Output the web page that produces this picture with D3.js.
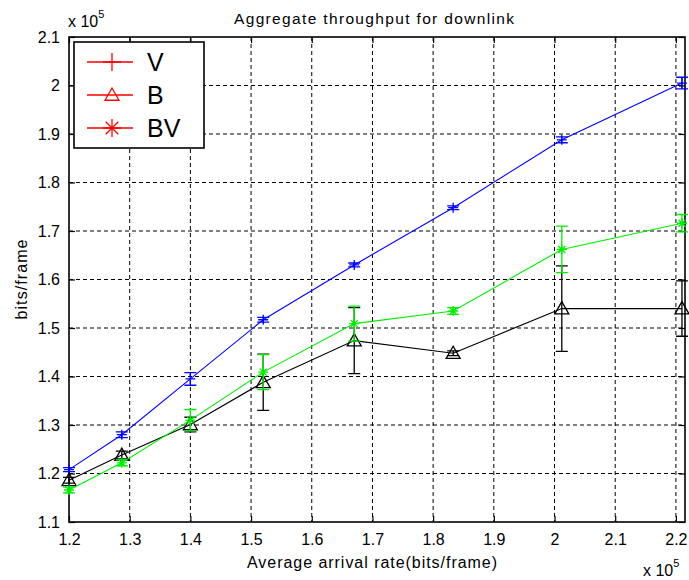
<!DOCTYPE html>
<html>
<head>
<meta charset="utf-8">
<script src="https://cdn.jsdelivr.net/npm/d3@7"></script>
<style>
  body { margin: 0; background: #fff; }
  svg text { font-family: "Liberation Sans", Arial, Helvetica, sans-serif; fill: #000; }
</style>
</head>
<body>
<div id="chart"></div>
<script>
// arrival rate, x 10^5 bits/frame
var arrivalRate = [1.2, 1.287, 1.4, 1.52, 1.67, 1.833, 2.012, 2.21];

// throughput, x 10^5 bits/frame, with errorbar half-lengths
var seriesV = [1.208, 1.280, 1.395, 1.517, 1.630, 1.748, 1.888, 2.005];
var errV = [0.004, 0.006, 0.013, 0.005, 0.004, 0.004, 0.006, 0.012];
var seriesB = [1.186, 1.238, 1.301, 1.388, 1.474, 1.448, 1.540, 1.540];
var errB = [0.006, 0.008, 0.015, 0.058, 0.068, 0.005, 0.088, 0.057];
var seriesBV = [1.166, 1.222, 1.310, 1.409, 1.509, 1.535, 1.662, 1.716];
var errBV = [0.006, 0.006, 0.022, 0.036, 0.036, 0.007, 0.048, 0.018];

var xTicks = [1.2, 1.3, 1.4, 1.5, 1.6, 1.7, 1.8, 1.9, 2, 2.1, 2.2];
var yTicks = [1.1, 1.2, 1.3, 1.4, 1.5, 1.6, 1.7, 1.8, 1.9, 2, 2.1];
var legendNames = ["V", "B", "BV"];

var width = 689, height = 580
var margin = {top: 37, left: 69, right: 4, bottom: 58}
var chartWidth = width - margin.left - margin.right
var chartHeight = height - margin.top - margin.bottom

var svg = d3.select("#chart").append("svg")
  .attr("width", width)
  .attr("height", height)

var x = d3.scaleLinear().domain([1.2, 2.215]).range([0, chartWidth])
var y = d3.scaleLinear().domain([1.1, 2.1]).range([chartHeight, 0])

var g = svg.append("g").attr("transform", "translate(" + margin.left + "," + margin.top + ")")

// dashed grid
var grid = g.append("g").attr("stroke", "#000").attr("stroke-width", 1).attr("stroke-dasharray", "4,3")
grid.selectAll(".gx").data(xTicks.slice(1)).enter().append("line")
  .attr("x1", d => x(d)).attr("x2", d => x(d))
  .attr("y1", 0).attr("y2", chartHeight)
grid.selectAll(".gy").data(yTicks.slice(1, -1)).enter().append("line")
  .attr("x1", 0).attr("x2", chartWidth)
  .attr("y1", d => y(d)).attr("y2", d => y(d))

// axes with inward ticks
var tickFmt = d3.format("~g")
var xAxis = g.append("g").attr("transform", "translate(0," + chartHeight + ")")
  .call(d3.axisBottom(x).tickValues(xTicks).tickSize(-6).tickPadding(12).tickFormat(tickFmt))
var xTop = g.append("g")
  .call(d3.axisTop(x).tickValues(xTicks).tickSize(-6).tickFormat(""))
var yAxis = g.append("g")
  .call(d3.axisLeft(y).tickValues(yTicks).tickSize(-6).tickPadding(9).tickFormat(tickFmt))
var yRight = g.append("g").attr("transform", "translate(" + chartWidth + ",0)")
  .call(d3.axisRight(y).tickValues(yTicks).tickSize(-6).tickFormat(""))

;[xAxis, xTop, yAxis, yRight].forEach(function(a) {
  a.selectAll("path").remove()
  a.selectAll("line").attr("stroke", "#000").attr("stroke-width", 1.2)
  a.selectAll("text").attr("font-size", 16).attr("font-family", "Liberation Sans, Arial, sans-serif")
})

g.append("rect")
  .attr("width", chartWidth).attr("height", chartHeight)
  .attr("fill", "none").attr("stroke", "#000").attr("stroke-width", 1.6)

// markers
function markerPath(type, r) {
  if (type == "plus") return "M" + (-r) + ",0H" + r + "M0," + (-r) + "V" + r
  if (type == "tri") return "M0," + (-r) + "L" + r + "," + (r * 0.75) + "L" + (-r) + "," + (r * 0.75) + "Z"
  var d = r * 0.7
  return "M" + (-r) + ",0H" + r + "M0," + (-r) + "V" + r +
    "M" + (-d) + "," + (-d) + "L" + d + "," + d + "M" + (-d) + "," + d + "L" + d + "," + (-d)
}

var series = [
  {name: "V", values: seriesV, err: errV, color: "#0000ff", marker: "plus", size: 5},
  {name: "B", values: seriesB, err: errB, color: "#000000", marker: "tri", size: 7},
  {name: "BV", values: seriesBV, err: errBV, color: "#00ee00", marker: "star", size: 5}
]

var line = d3.line().x(d => x(d.x)).y(d => y(d.y))
var capW = 6

series.forEach(function(s) {
  var pts = arrivalRate.map(function(xv, i) { return {x: xv, y: s.values[i], e: s.err[i]} })
  var sg = g.append("g").attr("class", "series")
  sg.append("path").datum(pts)
    .attr("d", line).attr("fill", "none")
    .attr("stroke", s.color).attr("stroke-width", 1.1)
  var eb = sg.selectAll(".eb").data(pts).enter().append("path")
    .attr("fill", "none").attr("stroke", s.color).attr("stroke-width", 1.3)
    .attr("d", function(d) {
      var cx = x(d.x), y0 = y(d.y - d.e), y1 = y(d.y + d.e)
      return "M" + cx + "," + y0 + "V" + y1 +
        "M" + (cx - capW) + "," + y0 + "H" + (cx + capW) +
        "M" + (cx - capW) + "," + y1 + "H" + (cx + capW)
    })
  sg.selectAll(".mk").data(pts).enter().append("path")
    .attr("transform", d => "translate(" + x(d.x) + "," + y(d.y) + ")")
    .attr("d", markerPath(s.marker, s.size))
    .attr("fill", "none").attr("stroke", s.color).attr("stroke-width", 1.3)
})

// legend (all entries drawn in red, as in the original)
var legend = svg.append("g").attr("transform", "translate(74,42)")
legend.append("rect").attr("width", 130).attr("height", 106)
  .attr("fill", "#fff").attr("stroke", "#000").attr("stroke-width", 1.6)
series.forEach(function(s, i) {
  var ly = 20 + i * 33
  legend.append("line").attr("x1", 13).attr("x2", 59).attr("y1", ly).attr("y2", ly)
    .attr("stroke", "#ff0000").attr("stroke-width", 1.3)
  legend.append("path").attr("transform", "translate(38," + ly + ")")
    .attr("d", markerPath(s.marker, s.marker == "tri" ? 7 : 9))
    .attr("fill", "none").attr("stroke", "#ff0000").attr("stroke-width", 1.3)
  legend.append("text").attr("x", 73).attr("y", ly + 9)
    .attr("font-size", 25).text(legendNames[i])
})

// titles and labels
svg.append("text").attr("x", 374).attr("y", 24).attr("text-anchor", "middle")
  .attr("font-size", 15.5).attr("textLength", 280).attr("lengthAdjust", "spacing")
  .text("Aggregate throughput for downlink")

svg.append("text").attr("x", 372).attr("y", 568).attr("text-anchor", "middle")
  .attr("font-size", 16).attr("textLength", 250).attr("lengthAdjust", "spacing")
  .text("Average arrival rate(bits/frame)")

svg.append("text").attr("transform", "translate(27," + (margin.top + chartHeight / 2) + ") rotate(-90)")
  .attr("text-anchor", "middle").attr("font-size", 16)
  .attr("textLength", 80).attr("lengthAdjust", "spacing")
  .text("bits/frame")

function expLabel(px, py) {
  var t = svg.append("text").attr("x", px).attr("y", py).attr("font-size", 16)
  t.append("tspan").text("x 10")
  t.append("tspan").attr("dy", -9).attr("font-size", 11).text("5")
}
expLabel(68, 27)
expLabel(643, 576)
</script>
</body>
</html>
